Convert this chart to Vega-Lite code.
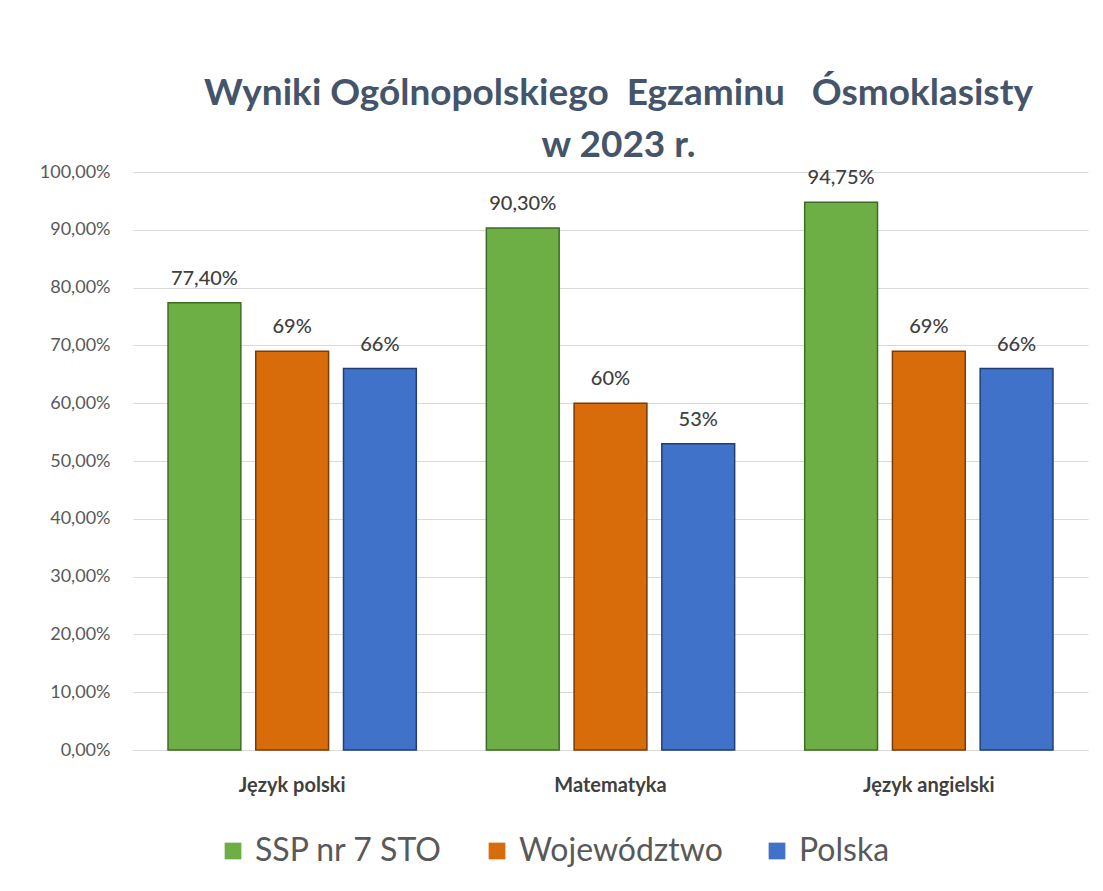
{
  "$schema": "https://vega.github.io/schema/vega-lite/v6.json",
  "width": 955,
  "height": 578,
  "autosize": {"type": "none"},
  "padding": {"left": 133, "top": 172, "right": 15, "bottom": 141},
  "background": "white",
  "config": {
    "locale": {"number": {"decimal": ",", "thousands": " ", "grouping": [3], "currency": ["", " zł"]}},
    "font": "Lato",
    "view": {"stroke": null}
  },
  "title": {
    "text": ["Wyniki Ogólnopolskiego \u00a0Egzaminu \u00a0\u00a0Ósmoklasisty", "w 2023 r."],
    "font": "Lato",
    "fontSize": 37,
    "fontWeight": "bold",
    "color": "#44546A",
    "lineHeight": 52,
    "anchor": "middle",
    "dx": 8,
    "offset": -2
  },
  "data": {
    "values": [
      {"przedmiot": "Język polski", "seria": "SSP nr 7 STO", "wynik": 0.774, "etykieta": "77,40%"},
      {"przedmiot": "Język polski", "seria": "Województwo", "wynik": 0.69, "etykieta": "69%"},
      {"przedmiot": "Język polski", "seria": "Polska", "wynik": 0.66, "etykieta": "66%"},
      {"przedmiot": "Matematyka", "seria": "SSP nr 7 STO", "wynik": 0.903, "etykieta": "90,30%"},
      {"przedmiot": "Matematyka", "seria": "Województwo", "wynik": 0.60, "etykieta": "60%"},
      {"przedmiot": "Matematyka", "seria": "Polska", "wynik": 0.53, "etykieta": "53%"},
      {"przedmiot": "Język angielski", "seria": "SSP nr 7 STO", "wynik": 0.9475, "etykieta": "94,75%"},
      {"przedmiot": "Język angielski", "seria": "Województwo", "wynik": 0.69, "etykieta": "69%"},
      {"przedmiot": "Język angielski", "seria": "Polska", "wynik": 0.66, "etykieta": "66%"}
    ]
  },
  "encoding": {
    "x": {
      "field": "przedmiot", "type": "nominal", "sort": null,
      "scale": {"paddingInner": 0.22, "paddingOuter": 0.11},
      "axis": {
        "title": null, "labelAngle": 0, "labelFontSize": 20, "labelFontWeight": "bold",
        "labelColor": "#404040", "labelPadding": 25, "ticks": false,
        "domainColor": "#D9D9D9", "domainWidth": 1
      }
    },
    "xOffset": {
      "field": "seria", "type": "nominal", "sort": ["SSP nr 7 STO", "Województwo", "Polska"],
      "scale": {"paddingInner": 0.17, "paddingOuter": 0}
    },
    "y": {
      "field": "wynik", "type": "quantitative",
      "scale": {"domain": [0, 1], "nice": false},
      "axis": {
        "title": null, "format": ".2%", "values": [0, 0.1, 0.2, 0.3, 0.4, 0.5, 0.6, 0.7, 0.8, 0.9, 1],
        "labelOverlap": false, "labelFontSize": 18, "labelColor": "#595959", "labelPadding": 23,
        "ticks": false, "domain": false, "gridColor": "#D9D9D9", "gridWidth": 1
      }
    }
  },
  "layer": [
    {
      "mark": {"type": "bar", "strokeWidth": 1.5},
      "encoding": {
        "color": {
          "field": "seria", "type": "nominal",
          "sort": ["SSP nr 7 STO", "Województwo", "Polska"],
          "scale": {"domain": ["SSP nr 7 STO", "Województwo", "Polska"], "range": ["#6DAE45", "#D86C0A", "#3F72C8"]},
          "legend": {
            "title": null, "orient": "none", "direction": "horizontal",
            "legendX": 84, "legendY": 663,
            "symbolType": "square", "symbolSize": 280, "symbolStrokeWidth": 0,
            "labelFontSize": 32, "labelColor": "#595959", "labelFont": "Lato",
            "columnPadding": 38, "labelOffset": 6, "labelLimit": 400
          }
        },
        "stroke": {
          "field": "seria", "type": "nominal",
          "scale": {"domain": ["SSP nr 7 STO", "Województwo", "Polska"], "range": ["#3E6B24", "#7A3C05", "#213F72"]},
          "legend": null
        }
      }
    },
    {
      "mark": {"type": "text", "dy": -24, "fontSize": 20, "fontWeight": 500},
      "encoding": {
        "text": {"field": "etykieta"},
        "color": {"value": "#404040"}
      }
    }
  ],
  "resolve": {"scale": {"color": "independent"}}
}
